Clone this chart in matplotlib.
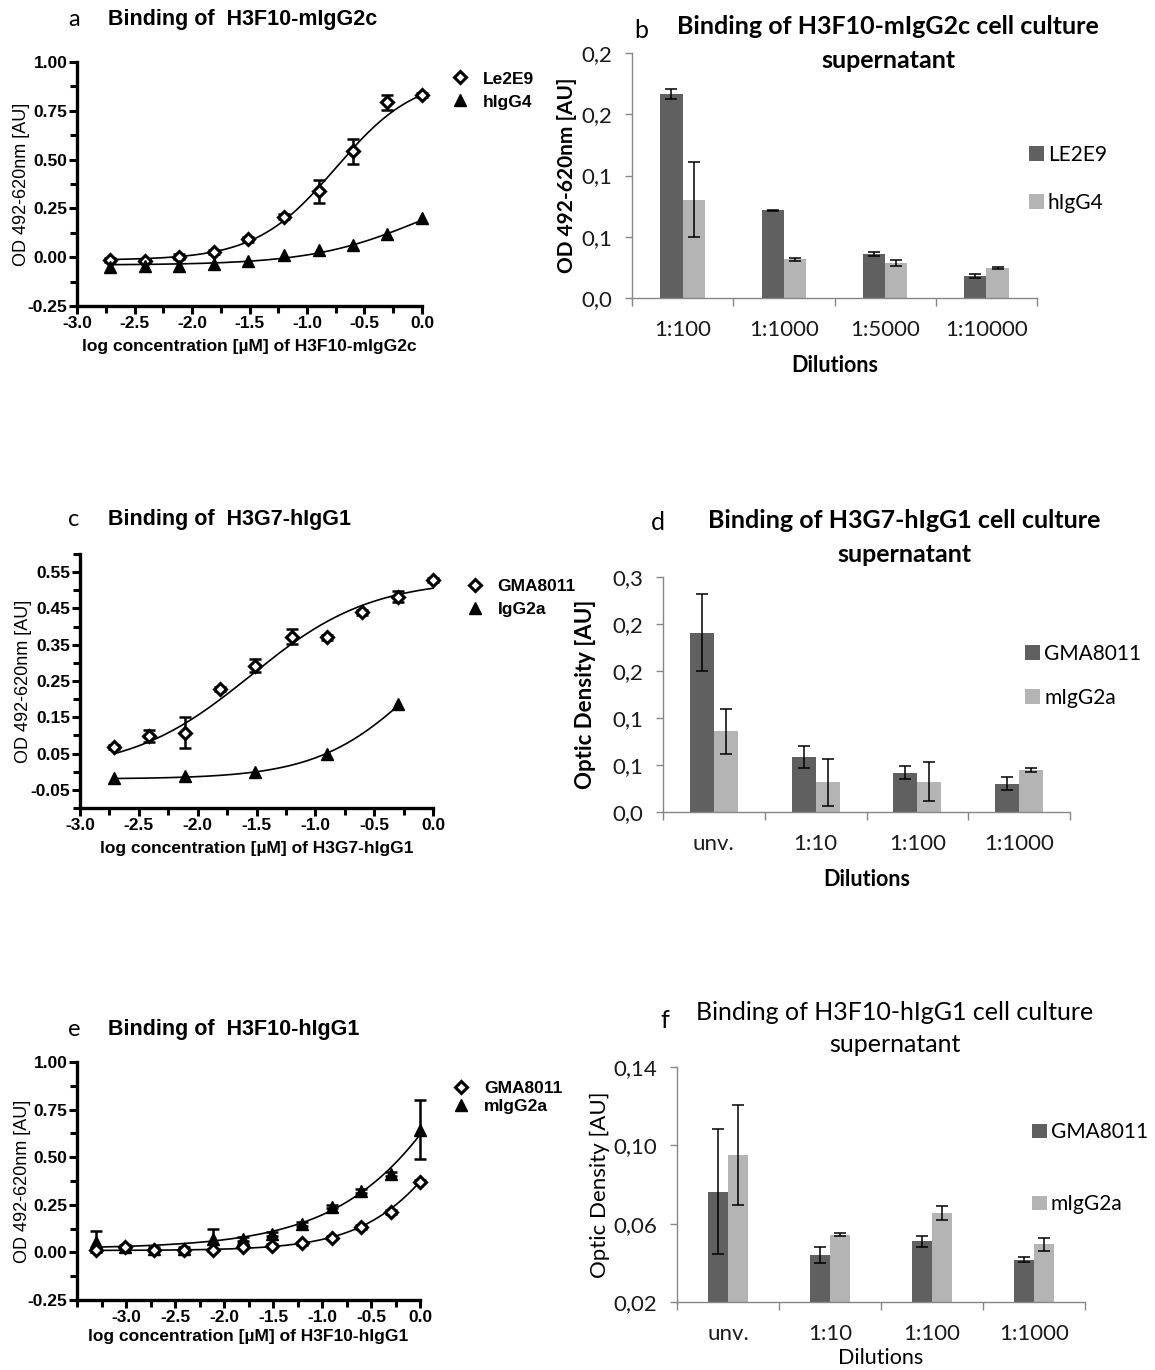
import matplotlib
matplotlib.use("Agg")
import matplotlib.pyplot as plt
import numpy as np
from matplotlib.ticker import FixedLocator, FuncFormatter

W, H = 1155, 1370

# ---- dose response data (log concentration in uM) ----
a_x = [-2.71, -2.41, -2.11, -1.81, -1.51, -1.20, -0.90, -0.60, -0.30, 0.0]
a_le2e9 = [-0.014, -0.017, 0.003, 0.027, 0.092, 0.207, 0.339, 0.542, 0.793, 0.832]
a_le2e9_err = [0.010, 0.008, 0.012, 0.010, 0.012, 0.012, 0.059, 0.063, 0.039, 0.010]
a_higg4 = [-0.050, -0.047, -0.046, -0.037, -0.020, 0.010, 0.039, 0.064, 0.119, 0.200]
# 4PL fit parameters: bottom, top, logEC50, hill
a_le2e9_fit = (-0.015, 0.93, -0.75, 1.25)
a_higg4_fit = (-0.04, 0.42, 0.0, 0.9)

c_x = [-2.71, -2.41, -2.11, -1.81, -1.51, -1.20, -0.90, -0.60, -0.30, 0.0]
c_gma = [0.068, 0.099, 0.107, 0.228, 0.292, 0.372, 0.370, 0.439, 0.482, 0.528]
c_gma_err = [0.006, 0.016, 0.043, 0.006, 0.018, 0.021, 0.006, 0.006, 0.015, 0.006]
c_igg_x = [-2.71, -2.11, -1.51, -0.90, -0.30]
c_igg = [-0.017, -0.012, 0.000, 0.050, 0.187]
c_gma_fit = (0.0, 0.53, -1.55, 0.85)
c_igg_fit = (-0.02, 0.5, -0.1, 1.0)

e_x = [-3.31, -3.01, -2.71, -2.41, -2.11, -1.81, -1.51, -1.20, -0.90, -0.60, -0.30, 0.0]
e_gma = [0.011, 0.029, 0.011, 0.011, 0.014, 0.029, 0.036, 0.047, 0.076, 0.133, 0.212, 0.372]
e_gma_err = [0.008, 0.006, 0.006, 0.008, 0.006, 0.006, 0.006, 0.006, 0.008, 0.010, 0.012, 0.008]
e_migg = [0.056, 0.030, 0.020, 0.020, 0.070, 0.070, 0.097, 0.151, 0.241, 0.322, 0.410, 0.645]
e_migg_err = [0.055, 0.010, 0.010, 0.010, 0.055, 0.010, 0.010, 0.010, 0.010, 0.010, 0.010, 0.155]
e_gma_fit = (0.01, 1.5, 0.55, 0.9)
e_migg_fit = (0.02, 3.0, 1.0, 0.6)

# ---- cell culture supernatant data ----
b_cats = ["1:100", "1:1000", "1:5000", "1:10000"]
b_le2e9 = [0.1665, 0.0717, 0.0362, 0.0180]
b_le2e9_err = [0.0040, 0.0003, 0.0017, 0.0015]
b_higg4 = [0.0804, 0.0316, 0.0289, 0.0245]
b_higg4_err = [0.0310, 0.0010, 0.0025, 0.0010]

d_cats = ["unv.", "1:10", "1:100", "1:1000"]
d_gma = [0.1905, 0.0588, 0.0419, 0.0300]
d_gma_err = [0.0410, 0.0115, 0.0072, 0.0070]
d_migg = [0.0859, 0.0317, 0.0324, 0.0444]
d_migg_err = [0.0240, 0.0250, 0.0206, 0.0023]

f_cats = ["unv.", "1:10", "1:100", "1:1000"]
f_gma = [0.0764, 0.0439, 0.0509, 0.0416]
f_gma_err = [0.0319, 0.0042, 0.0029, 0.0014]
f_migg = [0.0950, 0.0544, 0.0653, 0.0495]
f_migg_err = [0.0255, 0.0009, 0.0035, 0.0034]

PRISM = ["Liberation Sans", "DejaVu Sans"]
EXCEL = ["Lato", "DejaVu Sans"]
DARK, LIGHT = "#606060", "#b4b4b4"

fig = plt.figure(figsize=(W / 100, H / 100), dpi=100)


def px_axes(left, top, right, bottom):
    return fig.add_axes([left / W, 1 - bottom / H, (right - left) / W, (bottom - top) / H])


def px_text(x, y, s, **kw):
    return fig.text(x / W, 1 - y / H, s, va="center", **kw)


def four_pl(x, p):
    bottom, top, ec50, hill = p
    return bottom + (top - bottom) / (1 + 10 ** ((ec50 - x) * hill))


def prism_axes(ax, xlim, ylim, ymajor, yminor, xmajor, xminor):
    ax.set_xlim(*xlim)
    ax.set_ylim(*ylim)
    for s in ("top", "right"):
        ax.spines[s].set_visible(False)
    for s in ("left", "bottom"):
        ax.spines[s].set_linewidth(2.4)
    ax.yaxis.set_major_locator(FixedLocator(ymajor))
    ax.yaxis.set_minor_locator(FixedLocator(yminor))
    ax.xaxis.set_major_locator(FixedLocator(xmajor))
    ax.xaxis.set_minor_locator(FixedLocator(xminor))
    ax.yaxis.set_major_formatter(FuncFormatter(lambda v, _: "{:.2f}".format(v + 1e-9)))
    ax.xaxis.set_major_formatter(FuncFormatter(lambda v, _: "{:.1f}".format(v + 1e-9)))
    ax.tick_params(which="major", direction="out", length=6, width=2.2, pad=1)
    ax.tick_params(which="minor", direction="out", length=5, width=2.2)
    for lab in ax.get_xticklabels() + ax.get_yticklabels():
        lab.set_family(PRISM)
        lab.set_fontweight("bold")
        lab.set_fontsize(12.5)


def dose_panel(ax, letter, title, xlabel, ty):
    px_text(68, ty, letter, fontsize=17, family=EXCEL, ha="left")
    px_text(108, ty - 1, title, fontsize=15.5, family=PRISM, fontweight="bold", ha="left")
    ax.set_xlabel(xlabel, fontsize=12.5, family=PRISM, fontweight="bold", labelpad=6)
    ax.set_ylabel("OD 492-620nm [AU]", fontsize=13, family=PRISM)
    ax.yaxis.set_label_coords(-0.135, 0.5)


def draw_diamonds(ax, x, y, err, label):
    ax.errorbar(x, y, yerr=err, fmt="none", ecolor="black", elinewidth=1.8,
                capsize=4.5, capthick=1.8, clip_on=False, zorder=3)
    ax.plot(x, y, ls="none", marker="D", ms=6.5, mfc="white", mec="black", mew=2.2,
            clip_on=False, zorder=4, label=label)


def draw_triangles(ax, x, y, label, err=None):
    if err is not None:
        ax.errorbar(x, y, yerr=err, fmt="none", ecolor="black", elinewidth=1.8,
                    capsize=4.5, capthick=1.8, clip_on=False, zorder=3)
    ax.plot(x, y, ls="none", marker="^", ms=8, mfc="black", mec="black",
            clip_on=False, zorder=4, label=label)


def fit_line(ax, x0, x1, p):
    xs = np.linspace(x0, x1, 200)
    ax.plot(xs, four_pl(xs, p), color="black", lw=1.2, zorder=2, clip_on=False)


def prism_legend(ax, anchor, spacing, reverse=False):
    h, l = ax.get_legend_handles_labels()
    if reverse:
        h, l = h[::-1], l[::-1]
    ax.legend(h, l, loc="upper left", bbox_to_anchor=anchor, frameon=False,
              handlelength=0.8, handletextpad=0.9, labelspacing=spacing,
              borderaxespad=0, prop={"family": PRISM, "weight": "bold", "size": 12.5})


# ---------------- panel a ----------------
ax = px_axes(77, 62, 422, 306)
prism_axes(ax, (-3.0, 0.0), (-0.25, 1.0),
           [-0.25, 0.0, 0.25, 0.5, 0.75, 1.0], np.arange(-0.25, 1.01, 0.125),
           np.arange(-3.0, 0.01, 0.5), np.arange(-3.0, 0.01, 0.25))
fit_line(ax, a_x[0], a_x[-1], a_le2e9_fit)
fit_line(ax, a_x[0], a_x[-1], a_higg4_fit)
draw_diamonds(ax, a_x, a_le2e9, a_le2e9_err, "Le2E9")
draw_triangles(ax, a_x, a_higg4, "hIgG4")
dose_panel(ax, "a", "Binding of  H3F10-mIgG2c", "log concentration [\u00b5M] of H3F10-mIgG2c", 20)
prism_legend(ax, (1.07, 0.99), 0.45)

# ---------------- panel c ----------------
ax = px_axes(80, 554, 433, 808)
prism_axes(ax, (-3.0, 0.0), (-0.1, 0.6),
           np.arange(-0.05, 0.56, 0.1), np.arange(-0.1, 0.61, 0.1),
           np.arange(-3.0, 0.01, 0.5), np.arange(-3.0, 0.01, 0.25))
fit_line(ax, c_x[0], c_x[-1], c_gma_fit)
fit_line(ax, c_igg_x[0], c_igg_x[-1], c_igg_fit)
draw_diamonds(ax, c_x, c_gma, c_gma_err, "GMA8011")
draw_triangles(ax, c_igg_x, c_igg, "IgG2a")
dose_panel(ax, "c", "Binding of  H3G7-hIgG1", "log concentration [\u00b5M] of H3G7-hIgG1", 520)
prism_legend(ax, (1.08, 0.93), 0.45)

# ---------------- panel e ----------------
ax = px_axes(77, 1062, 420, 1300)
prism_axes(ax, (-3.5, 0.0), (-0.25, 1.0),
           [-0.25, 0.0, 0.25, 0.5, 0.75, 1.0], np.arange(-0.25, 1.01, 0.125),
           np.arange(-3.0, 0.01, 0.5), np.arange(-3.5, 0.01, 0.25))
fit_line(ax, e_x[0], e_x[-1], e_gma_fit)
fit_line(ax, e_x[0], e_x[-1], e_migg_fit)
draw_triangles(ax, e_x, e_migg, "mIgG2a", err=e_migg_err)
draw_diamonds(ax, e_x, e_gma, e_gma_err, "GMA8011")
dose_panel(ax, "e", "Binding of  H3F10-hIgG1", "log concentration [\u00b5M] of H3F10-hIgG1", 1030)
ax.xaxis.labelpad = 3
prism_legend(ax, (1.08, 0.95), 0.15, reverse=True)


# ---------------- bar panels ----------------
def comma_fmt(decimals):
    return FuncFormatter(lambda v, _: format(v + 1e-9, ".{}f".format(decimals)).replace(".", ","))


def bar_panel(ax, cats, s1, e1, s2, e2, names, width, ylim, yticks, decimals, ylabel, bold,
              xpad, legend_anchor, legend_gap):
    x = np.arange(len(cats))
    ax.bar(x - width / 2, s1, width, color=DARK, label=names[0], zorder=2)
    ax.bar(x + width / 2, s2, width, color=LIGHT, label=names[1], zorder=2)
    ax.errorbar(x - width / 2, s1, yerr=e1, fmt="none", ecolor="black", elinewidth=1.1,
                capsize=4.5, capthick=1.1, zorder=3)
    ax.errorbar(x + width / 2, s2, yerr=e2, fmt="none", ecolor="black", elinewidth=1.1,
                capsize=4.5, capthick=1.1, zorder=3)
    ax.set_xlim(-0.5, len(cats) - 0.5)
    ax.set_ylim(*ylim)
    for s in ("top", "right"):
        ax.spines[s].set_visible(False)
    for s in ("left", "bottom"):
        ax.spines[s].set_color("#868686")
        ax.spines[s].set_linewidth(1.0)
    ax.set_yticks(yticks)
    ax.yaxis.set_major_formatter(comma_fmt(decimals))
    ax.set_xticks(x)
    ax.set_xticklabels(cats)
    ax.xaxis.set_minor_locator(FixedLocator(np.arange(-0.5, len(cats), 1.0)))
    ax.tick_params(axis="x", which="major", length=0, pad=16)
    ax.tick_params(axis="x", which="minor", length=6, color="#868686", width=1)
    ax.tick_params(axis="y", which="major", length=5, color="#868686", width=1, pad=9)
    for lab in ax.get_xticklabels() + ax.get_yticklabels():
        lab.set_family(EXCEL)
        lab.set_fontsize(16)
        lab.set_color("#1a1a1a")
    wt = "bold" if bold else "normal"
    ax.set_xlabel("Dilutions", fontsize=15.5, family=EXCEL, fontweight=wt, labelpad=xpad)
    ax.set_ylabel(ylabel, fontsize=16, family=EXCEL, fontweight=wt)
    ax.legend(loc="upper left", bbox_to_anchor=legend_anchor, frameon=False,
              handlelength=0.7, handleheight=0.7, handletextpad=0.2,
              labelspacing=legend_gap, borderaxespad=0, prop={"family": EXCEL, "size": 15})


def bar_title(letter, lx, ly, lines, cx, y1, y2, bold):
    wt = "bold" if bold else "normal"
    px_text(lx, ly, letter, fontsize=18, family=EXCEL, ha="center")
    px_text(cx, y1, lines[0], fontsize=18, family=EXCEL, fontweight=wt, ha="center")
    px_text(cx, y2, lines[1], fontsize=18, family=EXCEL, fontweight=wt, ha="center")


ax = px_axes(632, 53, 1037, 298)
bar_panel(ax, b_cats, b_le2e9, b_le2e9_err, b_higg4, b_higg4_err, ("LE2E9", "hIgG4"),
          0.22, (0, 0.2), np.arange(0, 0.201, 0.05), 1, "OD 492-620nm [AU]", True,
          11, (0.96, 0.66), 1.35)
ax.set_ylabel("OD 492-620nm [AU]", fontsize=15, family=EXCEL, fontweight="bold")
ax.yaxis.set_label_coords(-0.135, 0.5)
bar_title("b", 641, 30, ("Binding of H3F10-mIgG2c cell culture", "supernatant"),
          888, 26, 60, True)

ax = px_axes(663, 577, 1070, 812)
bar_panel(ax, d_cats, d_gma, d_gma_err, d_migg, d_migg_err, ("GMA8011", "mIgG2a"),
          0.235, (0, 0.25), np.arange(0, 0.251, 0.05), 1, "Optic Density [AU]", True,
          11, (0.87, 0.75), 1.15)
ax.yaxis.set_label_coords(-0.165, 0.5)
bar_title("d", 658, 522, ("Binding of H3G7-hIgG1 cell culture", "supernatant"),
          904, 520, 555, True)

ax = px_axes(677, 1067, 1085, 1302)
bar_panel(ax, f_cats, f_gma, f_gma_err, f_migg, f_migg_err, ("GMA8011", "mIgG2a"),
          0.2, (0.02, 0.14), [0.02, 0.06, 0.10, 0.14], 2, "Optic Density [AU]", False,
          3, (0.85, 0.8), 2.5)
ax.yaxis.set_label_coords(-0.165, 0.5)
bar_title("f", 665, 1020, ("Binding of H3F10-hIgG1 cell culture", "supernatant"),
          895, 1012, 1045, False)

fig.savefig("out.png", dpi=100)
